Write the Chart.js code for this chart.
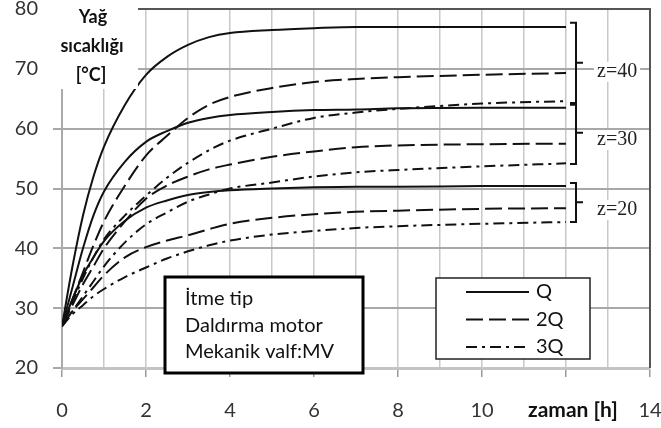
<!DOCTYPE html>
<html>
<head>
<meta charset="utf-8">
<script src="https://cdn.jsdelivr.net/npm/chart.js@4/dist/chart.umd.min.js"></script>
<style>
  body { margin: 0; background: #fff; }
  canvas { display: block; }
</style>
</head>
<body>
<canvas id="oil-temp-chart" width="661" height="428"></canvas>
<script>
// time axis (hours), shared by all curves
let hours = [0, 0.25, 0.5, 0.75, 1, 1.5, 2, 2.5, 3, 3.5, 4, 5, 6, 7, 8, 10, 12]

// oil temperature [°C] for z=40, z=30, z=20 and flow Q, 2Q, 3Q
let q40  = [27, 37, 45.5, 52, 57, 64, 69, 72, 74, 75.3, 76, 76.5, 76.8, 77, 77, 77, 77]
let q2_40 = [27, 31.5, 36, 40.5, 44.5, 50.5, 55.5, 58.8, 61.8, 64, 65.3, 66.8, 67.8, 68.3, 68.6, 69, 69.3]
let q3_40 = [27, 31, 35, 38.5, 41.5, 45.5, 48.8, 51.8, 54.3, 56.4, 58, 60, 61.8, 62.7, 63.3, 64.2, 64.6]
let q30  = [27, 33.5, 40, 45.5, 49.5, 54.5, 57.8, 59.6, 61, 61.8, 62.3, 62.8, 63.1, 63.2, 63.4, 63.5, 63.5]
let q2_30 = [27, 30.5, 34, 37, 40, 44.5, 48.3, 50.5, 52, 53.2, 54, 55.3, 56.2, 56.9, 57.2, 57.4, 57.5]
let q3_30 = [27, 29.5, 32, 34.5, 37, 41, 44, 46, 47.8, 49, 50, 51, 52, 52.7, 53.1, 53.7, 54.2]
let q20  = [27, 31.5, 35.5, 38.5, 41.2, 44.6, 46.8, 48, 48.9, 49.4, 49.7, 50, 50.2, 50.3, 50.3, 50.4, 50.4]
let q2_20 = [27, 29.5, 31.5, 33.5, 35.5, 38.5, 40.2, 41.3, 42.2, 43.2, 44.1, 45.1, 45.7, 46.1, 46.3, 46.6, 46.7]
let q3_20 = [27, 29, 30.5, 32, 33.2, 35.2, 36.8, 38.3, 39.5, 40.5, 41.3, 42.3, 42.9, 43.4, 43.7, 44.1, 44.4]

// legend entries and the z groups (brace from / to / middle, label level)
let flowLabels = ['Q', '2Q', '3Q']
let zLabels = ['z=40', 'z=30', 'z=20']
let braceTop = [77.7, 64.0, 50.9]
let braceBottom = [64.3, 54.1, 44.4]
let braceMid = [71.0, 59.3, 47.7]
let zLabelLevel = [69.5, 58.1, 46.4]

let infoLines = ['İtme tip', 'Daldırma motor', 'Mekanik valf:MV']

let xTicks = [0, 2, 4, 6, 8, 10, 14]

// line styles for Q, 2Q, 3Q
let dashes = [[], [17, 6], [11, 5, 3, 5]]
let ink = '#111'

function series(values, flow) {
    return {
        label: flowLabels[flow],
        data: hours.map((h, i) => ({ x: h, y: values[i] })),
        borderColor: ink,
        borderWidth: 2,
        borderDash: dashes[flow],
        pointRadius: 0,
        cubicInterpolationMode: 'monotone',
        fill: false
    }
}

// draws the framed text, the legend, the braces and the axis titles
let decorations = {
    id: 'decorations',
    beforeDatasetsDraw(chart) {
        let c = chart.ctx
        let a = chart.chartArea
        c.save()
        c.strokeStyle = '#555'
        c.lineWidth = 2
        c.beginPath()
        c.moveTo(a.left, a.top)
        c.lineTo(a.right, a.top)
        c.lineTo(a.right, a.bottom)
        c.stroke()
        c.restore()
    },
    afterDatasetsDraw(chart) {
        let c = chart.ctx
        let ys = chart.scales.y
        c.save()

        // y title on white patch
        c.fillStyle = '#fff'
        c.fillRect(45, 0, 93, 89)
        c.fillStyle = '#111'
        c.font = 'bold 18px Lato'
        c.textAlign = 'center'
        c.textBaseline = 'middle'
        c.fillText('Yağ', 93, 17)
        c.fillText('sıcaklığı', 92, 46)
        c.fillText('[°C]', 91, 75)

        // x title replaces the 12 label
        c.font = 'bold 21px Lato'
        c.textAlign = 'left'
        c.fillText('zaman [h]', 528, 410)

        // info box
        c.fillStyle = '#fff'
        c.fillRect(165, 277, 198, 96)
        c.strokeStyle = '#000'
        c.lineWidth = 3
        c.strokeRect(165, 277, 198, 96)
        c.fillStyle = '#111'
        c.font = '20px Lato'
        infoLines.forEach((t, i) => c.fillText(t, 185, 299 + i * 26.5))

        // legend box
        c.fillStyle = '#fff'
        c.fillRect(436, 278, 154, 81)
        c.strokeStyle = '#222'
        c.lineWidth = 1.5
        c.strokeRect(436, 278, 154, 81)
        c.font = '20px Lato'
        flowLabels.forEach((t, i) => {
            let y = 292 + i * 27.5
            c.strokeStyle = ink
            c.lineWidth = 2
            c.setLineDash(dashes[i])
            c.beginPath()
            c.moveTo(466, y)
            c.lineTo(529, y)
            c.stroke()
            c.setLineDash([])
            c.fillStyle = '#111'
            c.fillText(t, 536, y)
        })

        // braces for the z groups
        let bx = 576
        c.strokeStyle = '#111'
        c.lineWidth = 2
        zLabels.forEach((t, i) => {
            let top = ys.getPixelForValue(braceTop[i])
            let bot = ys.getPixelForValue(braceBottom[i])
            let mid = ys.getPixelForValue(braceMid[i])
            c.beginPath()
            c.moveTo(bx - 6, top)
            c.lineTo(bx, top)
            c.lineTo(bx, bot)
            c.lineTo(bx - 6, bot)
            c.moveTo(bx, mid)
            c.lineTo(bx + 7, mid)
            c.stroke()
            let ly = ys.getPixelForValue(zLabelLevel[i])
            c.font = '20px "Liberation Serif"'
            c.fillStyle = '#fff'
            c.fillRect(594, ly - 10, c.measureText(t).width + 6, 20)
            c.fillStyle = '#222'
            c.fillText(t, 597, ly)
        })
        c.restore()
    }
}

let chartCanvas = document.querySelector('#oil-temp-chart')
let ctx = chartCanvas.getContext('2d')

let oilChart = new Chart(ctx, {
    type: 'line',
    data: {
        datasets: [
            series(q40, 0), series(q2_40, 1), series(q3_40, 2),
            series(q30, 0), series(q2_30, 1), series(q3_30, 2),
            series(q20, 0), series(q2_20, 1), series(q3_20, 2)
        ]
    },
    options: {
        responsive: false,
        animation: false,
        layout: { padding: { top: 9, right: 11, left: 0, bottom: 0 } },
        plugins: { legend: { display: false }, tooltip: { enabled: false } },
        scales: {
            x: {
                type: 'linear',
                min: 0,
                max: 14,
                afterFit(scale) {
                    scale.height = 60
                    scale.paddingLeft = 0
                    scale.paddingRight = 0
                },
                ticks: {
                    stepSize: 1,
                    autoSkip: false,
                    maxRotation: 0,
                    padding: 22,
                    color: '#333',
                    font: { family: 'Lato', size: 20 },
                    callback: v => xTicks.includes(v) ? v : ''
                },
                grid: {
                    color: '#c8c8c8',
                    lineWidth: 1.5,
                    tickLength: 9,
                    tickColor: c => (c.tick && c.tick.value % 2 === 0) ? '#999' : 'rgba(0,0,0,0)'
                },
                border: { color: '#c4c4c4', width: 3 }
            },
            y: {
                min: 20,
                max: 80,
                afterFit(scale) {
                    scale.width = 62
                    scale.paddingTop = 0
                    scale.paddingBottom = 0
                },
                ticks: {
                    stepSize: 10,
                    padding: 15,
                    color: '#333',
                    font: { family: 'Lato', size: 20 }
                },
                grid: {
                    color: '#a8a8a8',
                    lineWidth: 2,
                    tickLength: 9
                },
                border: { color: '#aaa', width: 2 }
            }
        }
    },
    plugins: [decorations]
})
</script>
</body>
</html>
